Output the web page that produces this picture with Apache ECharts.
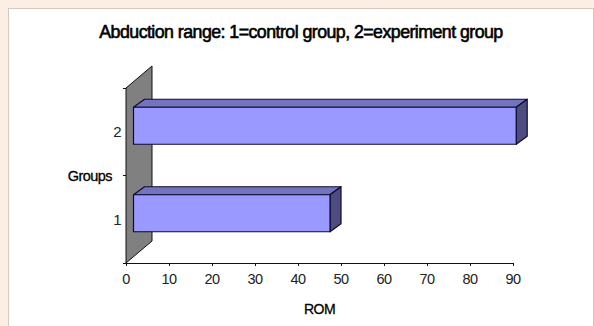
<!DOCTYPE html>
<html>
<head>
<meta charset="utf-8">
<style>
html,body{margin:0;padding:0;background:#fff;}
#chart{width:594px;height:326px;}
/* Tight tracking for every label on the chart */
#chart svg text{letter-spacing:-0.55px;}
</style>
<script src="https://cdn.jsdelivr.net/npm/echarts@6/dist/echarts.min.js"></script>
</head>
<body>
<div id="chart"></div>
<script>
// Abduction range by group, drawn as 3D-look horizontal bars.
const categories = ['1', '2'];
const romValues = [45.7, 89];
const valueTicks = [0, 90];
const titleText = 'Abduction range: 1=control group, 2=experiment group';

const FRONT_COLOR = '#9999ff';
const TOP_COLOR = '#7373bf';
const SIDE_COLOR = '#4d4d80';
const WALL_COLOR = '#808080';
const EDGE = '#0c0c30';

// Depth vectors of the projected box, in pixels.
const WALL_DEPTH = [26, -22];
const BAR_DEPTH = [11, -8];
const BAR_SHIFT = [7.5, -6];
const BAR_THICKNESS = 37;

function renderWall(params, api) {
  const cs = params.coordSys;
  const l = cs.x, t = cs.y, b = cs.y + cs.height;
  const [dx, dy] = WALL_DEPTH;
  return {
    type: 'polygon',
    shape: { points: [[l, t], [l + dx, t + dy], [l + dx, b + dy], [l, b]] },
    style: { fill: WALL_COLOR, stroke: '#111', lineWidth: 1 }
  };
}

function renderBar(params, api) {
  const end = api.coord([api.value(0), api.value(1)]);
  const start = api.coord([0, api.value(1)]);
  const x0 = start[0] + BAR_SHIFT[0];
  const x1 = end[0] + BAR_SHIFT[0];
  const yTop = end[1] + BAR_SHIFT[1] - BAR_THICKNESS / 2;
  const yBot = yTop + BAR_THICKNESS;
  const [dx, dy] = BAR_DEPTH;
  const stroke = { stroke: EDGE, lineWidth: 1.2, lineJoin: 'round' };
  return {
    type: 'group',
    children: [
      { type: 'polygon', shape: { points: [[x0, yTop], [x0 + dx, yTop + dy], [x1 + dx, yTop + dy], [x1, yTop]] },
        style: { fill: TOP_COLOR, ...stroke } },
      { type: 'polygon', shape: { points: [[x1, yTop], [x1 + dx, yTop + dy], [x1 + dx, yBot + dy], [x1, yBot]] },
        style: { fill: SIDE_COLOR, ...stroke } },
      { type: 'rect', shape: { x: x0, y: yTop, width: x1 - x0, height: BAR_THICKNESS },
        style: { fill: FRONT_COLOR, ...stroke } }
    ]
  };
}

const LABEL_FONT = 'Liberation Sans';
const chart = echarts.init(document.getElementById('chart'), null, { renderer: 'svg' });
chart.setOption({
  animation: false,
  backgroundColor: '#ffffff',
  title: {
    text: titleText,
    left: 296, top: 18, textAlign: 'center',
    textStyle: { fontFamily: LABEL_FONT, fontSize: 17.8, fontWeight: 'normal', color: '#000',
      textBorderColor: '#000', textBorderWidth: 0.6 }
  },
  grid: { left: 126, right: 81, top: 88, bottom: 63 },
  xAxis: {
    type: 'value', min: valueTicks[0], max: valueTicks[1], interval: 10,
    name: 'ROM', nameLocation: 'middle', nameGap: 39,
    nameTextStyle: { fontFamily: LABEL_FONT, fontSize: 14, color: '#000',
      textBorderColor: '#000', textBorderWidth: 0.3 },
    axisLine: { show: true, lineStyle: { color: '#111' } },
    axisTick: { show: true, length: 3, lineStyle: { color: '#111' } },
    axisLabel: { fontFamily: LABEL_FONT, fontSize: 14.5, color: '#222', margin: 8 },
    splitLine: { show: false }
  },
  yAxis: {
    type: 'category', data: categories,
    name: 'Groups', nameLocation: 'middle', nameGap: 14, nameRotate: 0, nameMoveOverlap: false,
    nameTextStyle: { fontFamily: LABEL_FONT, fontSize: 14.5, color: '#000', align: 'right', padding: [3, 0, 0, 0],
      textBorderColor: '#000', textBorderWidth: 0.3 },
    axisLine: { show: true, lineStyle: { color: '#111' } },
    axisTick: { show: true, length: 3, alignWithLabel: false, lineStyle: { color: '#111' } },
    axisLabel: { fontFamily: LABEL_FONT, fontSize: 15, color: '#222', margin: 5, padding: [2, 0, 0, 0] }
  },
  series: [
    { type: 'custom', name: 'wall', coordinateSystem: 'cartesian2d', renderItem: renderWall,
      data: [[0, 0]], z: 1, silent: true, clip: false },
    { type: 'custom', name: 'ROM', coordinateSystem: 'cartesian2d', renderItem: renderBar,
      encode: { x: 0, y: 1 }, data: romValues.map((v, i) => [v, i]), z: 2, clip: false }
  ],
  graphic: [
    { type: 'rect', silent: true, z: 100, shape: { x: 0, y: 0, width: 594, height: 8 }, style: { fill: '#fbeee4' } },
    { type: 'rect', silent: true, z: 100, shape: { x: 8, y: 8, width: 586, height: 1 }, style: { fill: '#d8c8be' } },
    { type: 'rect', silent: true, z: 100, shape: { x: 0, y: 8, width: 8, height: 318 }, style: { fill: '#fbeee4' } },
    { type: 'rect', silent: true, z: 100, shape: { x: 8, y: 8, width: 1, height: 318 }, style: { fill: '#d8c8be' } },
    { type: 'rect', silent: true, z: 100, shape: { x: 593, y: 8, width: 1, height: 318 }, style: { fill: '#cfc8c2' } }
  ]
});
</script>
</body>
</html>
